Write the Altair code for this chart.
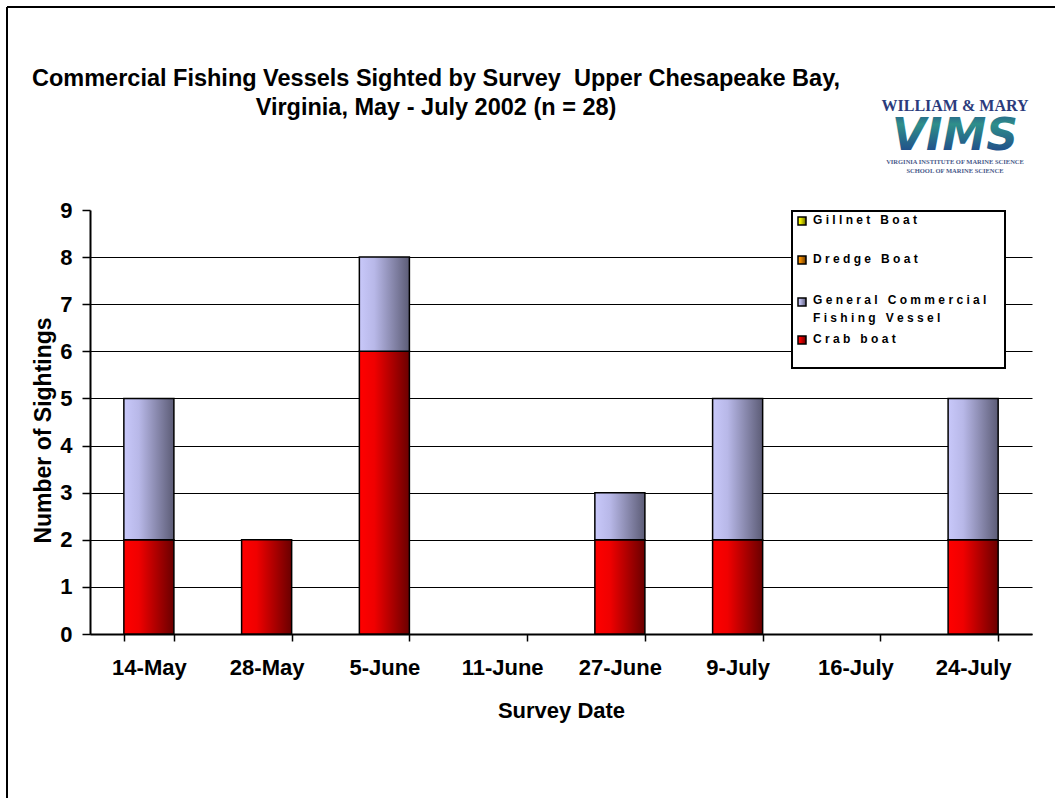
import altair as alt
import pandas as pd

# Survey dates and sightings per vessel type
dates = ["14-May", "28-May", "5-June", "11-June", "27-June", "9-July", "16-July", "24-July"]
crab_boat = [2, 2, 6, 0, 2, 2, 0, 2]
general_vessel = [3, 0, 2, 0, 1, 3, 0, 3]
dredge_boat = [0, 0, 0, 0, 0, 0, 0, 0]
gillnet_boat = [0, 0, 0, 0, 0, 0, 0, 0]
y_ticks = [0, 1, 2, 3, 4, 5, 6, 7, 8, 9]

title_lines = [
    "Commercial Fishing Vessels Sighted by Survey\u00a0 Upper Chesapeake Bay,",
    "Virginia, May - July 2002 (n = 28)",
]
legend_entries = [
    ["Gillnet Boat"],
    ["Dredge Boat"],
    ["General Commercial", "Fishing Vessel"],
    ["Crab boat"],
]

FONT = "Liberation Sans"


def grad(left, mid, right, horizontal=True):
    stops = [
        alt.GradientStop(color=left, offset=0),
        alt.GradientStop(color=mid, offset=0.3),
        alt.GradientStop(color=right, offset=1),
    ]
    if horizontal:
        return alt.Gradient(gradient="linear", stops=stops, x1=0, x2=1, y1=0, y2=0)
    return alt.Gradient(gradient="linear", stops=stops, x1=0, x2=0, y1=0, y2=1)


crab_fill = grad("#ff0000", "#f00000", "#6a0000")
general_fill = grad("#c8c8fa", "#b8b8e8", "#5c5c76")
dredge_fill = grad("#ff9a00", "#f08a00", "#6a3a00")
gillnet_fill = grad("#ffff00", "#f0f000", "#6a6a00")
legend_fills = [gillnet_fill, dredge_fill, general_fill, crab_fill]

df = pd.DataFrame({
    "date": dates,
    "crab": crab_boat,
    "general": general_vessel,
    "dredge": dredge_boat,
    "gillnet": gillnet_boat,
})

x_enc = alt.X(
    "date:N",
    sort=dates,
    scale=alt.Scale(domain=dates, paddingInner=0.575, paddingOuter=0.2875),
    axis=alt.Axis(
        title="Survey Date",
        labelAngle=0,
        labelFont=FONT,
        labelFontSize=22,
        labelFontWeight="bold",
        labelColor="black",
        labelBaseline="alphabetic",
        labelPadding=33,
        tickBand="extent",
        tickSize=7,
        tickWidth=1.5,
        tickColor="black",
        domainColor="black",
        domainWidth=2,
        titleFont=FONT,
        titleFontSize=22,
        titleFontWeight="bold",
        titleColor="black",
        titleBaseline="alphabetic",
        titleY=83,
    ),
)

y_scale = alt.Scale(domain=[0, 9], nice=False)
y_axis = alt.Axis(
    title="Number of Sightings",
    values=y_ticks,
    format="d",
    labelFont=FONT,
    labelFontSize=22,
    labelFontWeight="bold",
    labelColor="black",
    labelPadding=10,
    tickSize=8,
    tickWidth=1.5,
    tickColor="black",
    domainColor="black",
    domainWidth=2,
    grid=True,
    gridColor="black",
    gridWidth=1.2,
    gridOpacity={"condition": {"test": "datum.value === 9", "value": 0}, "value": 1},
    titleFont=FONT,
    titleFontSize=23,
    titleFontWeight="bold",
    titleColor="black",
    titleAngle=270,
    titleBaseline="alphabetic",
    titleX=-40,
    titleY=220,
)

base = alt.Chart(df)

crab_bars = base.transform_filter("datum.crab > 0").mark_bar(
    color=crab_fill, stroke="black", strokeWidth=1.5
).encode(
    x=x_enc,
    y=alt.Y("crab:Q", scale=y_scale, axis=y_axis),
)

general_bars = base.transform_calculate(
    top="datum.crab + datum.general"
).transform_filter("datum.general > 0").mark_bar(
    color=general_fill, stroke="black", strokeWidth=1.5
).encode(
    x=x_enc,
    y=alt.Y("crab:Q", scale=y_scale, axis=y_axis),
    y2="top:Q",
)

one = alt.Chart(pd.DataFrame({"k": [0]}))

# Frame lines around the slide
frame_left = one.mark_rule(color="black", strokeWidth=2).encode(
    x=alt.value(-83), y=alt.value(-203), y2=alt.value(600)
)
frame_top = one.mark_rule(color="black", strokeWidth=2).encode(
    x=alt.value(-83), x2=alt.value(980), y=alt.value(-203)
)

title = one.mark_text(
    text=title_lines, font=FONT, fontSize=23.5, fontWeight="bold", color="black",
    align="center", baseline="alphabetic", lineHeight=29,
).encode(x=alt.value(346), y=alt.value(-124))

# Logo block
logo_top = one.mark_text(
    text="WILLIAM & MARY", font="Liberation Serif", fontSize=16, fontWeight="bold",
    color="#2b3b7c", align="center", baseline="alphabetic",
).encode(x=alt.value(865), y=alt.value(-99))
logo_vims = one.mark_text(
    text="VIMS", font="DejaVu Sans", fontSize=44, fontWeight="bold", fontStyle="italic",
    color=grad("#24508c", "#2f8f8a", "#1c3a8a", horizontal=False),
    align="center", baseline="alphabetic",
).encode(x=alt.value(865), y=alt.value(-60))
logo_line1 = one.mark_text(
    text="VIRGINIA INSTITUTE OF MARINE SCIENCE", font="Liberation Serif", fontSize=6.5,
    fontWeight="bold", color="#4a5a8a", align="center", baseline="alphabetic",
).encode(x=alt.value(865), y=alt.value(-46))
logo_line2 = one.mark_text(
    text="SCHOOL OF MARINE SCIENCE", font="Liberation Serif", fontSize=6.5,
    fontWeight="bold", color="#4a5a8a", align="center", baseline="alphabetic",
).encode(x=alt.value(865), y=alt.value(-37))

# Legend box
legend_box = one.mark_rect(fill="white", stroke="black", strokeWidth=2).encode(
    x=alt.value(702), x2=alt.value(915), y=alt.value(1), y2=alt.value(158)
)
legend_layers = [legend_box]
symbol_y = [11, 50, 92, 130]
text_y = [14, 53, 94, 133]
for entry, fill, sy, ty in zip(legend_entries, legend_fills, symbol_y, text_y):
    legend_layers.append(
        one.mark_rect(color=fill, stroke="black", strokeWidth=1.5).encode(
            x=alt.value(708), x2=alt.value(716), y=alt.value(sy - 4), y2=alt.value(sy + 4)
        )
    )
    spaced = ["\u00a0".join(line) for line in entry]
    legend_layers.append(
        one.mark_text(
            text=spaced if len(spaced) > 1 else spaced[0], font=FONT, fontSize=12,
            fontWeight="bold", color="black", align="left", baseline="alphabetic",
            lineHeight=18,
        ).encode(x=alt.value(723), y=alt.value(ty))
    )

chart = alt.layer(
    crab_bars, general_bars, frame_left, frame_top, title,
    logo_top, logo_vims, logo_line1, logo_line2, *legend_layers,
).properties(
    width=942,
    height=424,
    padding={"left": 90, "top": 210, "right": 23, "bottom": 164},
    autosize=alt.AutoSizeParams(type="none"),
    background="white",
).configure_view(stroke=None)

chart.save("out.html", embed_options={"renderer": "svg", "actions": False})
